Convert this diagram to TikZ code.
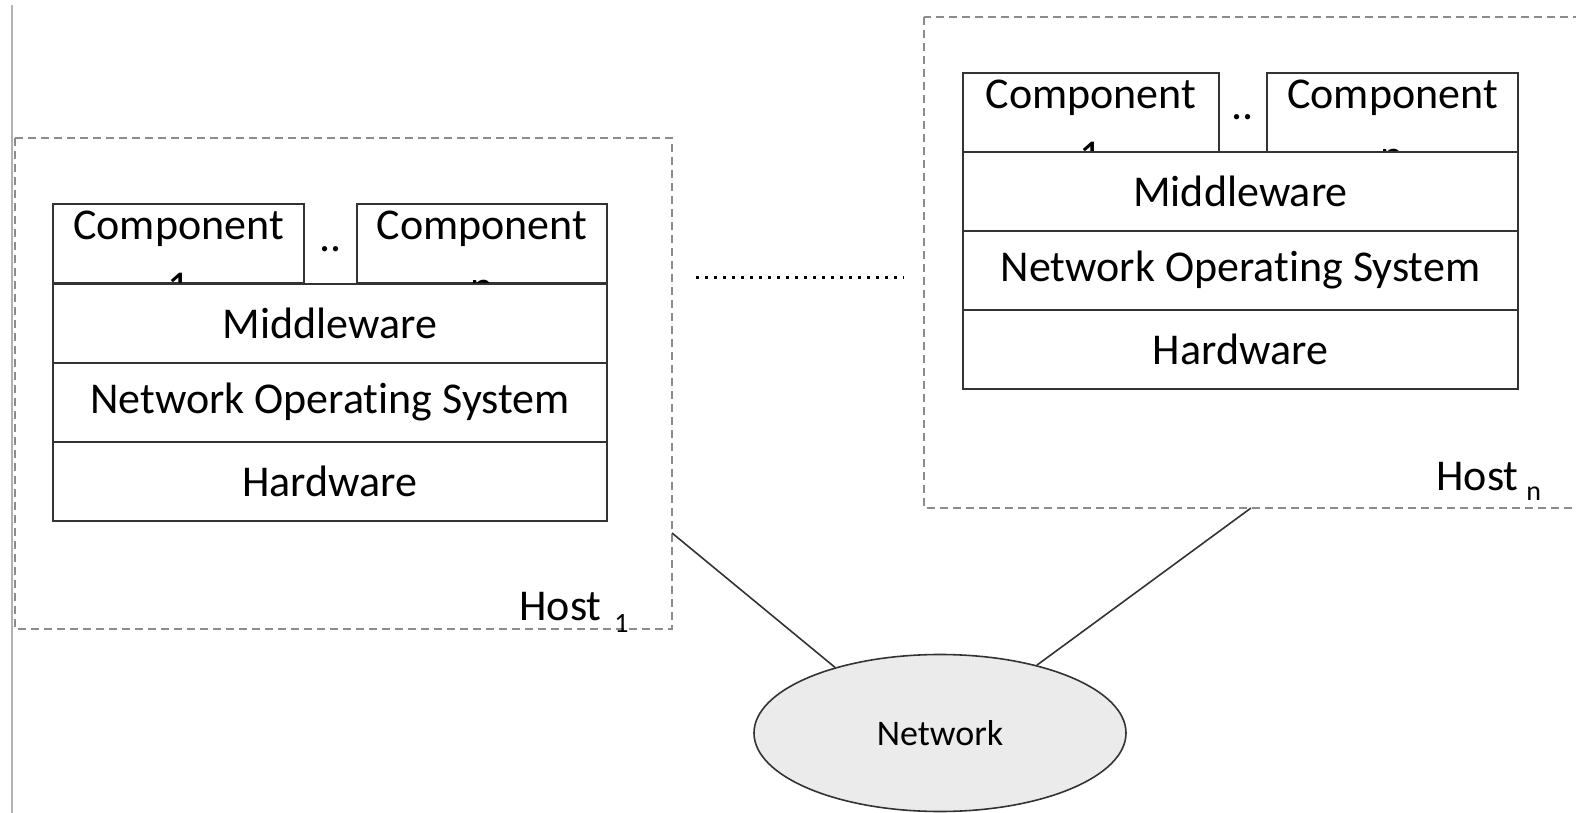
\documentclass[tikz,border=0pt]{standalone}
\usepackage{fontspec}
\setmainfont{Carlito}[Ligatures={NoCommon}]
\usetikzlibrary{shapes.geometric}
\begin{document}
\begin{tikzpicture}[x=0.5pt,y=-0.5pt,
  layer/.style={draw=black!80,line width=0.9pt,fill=white,rectangle,inner sep=0pt,
    minimum height=39.5pt,font=\fontsize{22}{26}\selectfont},
  comp/.style={draw=black!80,line width=0.9pt,rectangle,inner sep=0pt,minimum height=39.5pt},
  ctext/.style={anchor=base,inner sep=0pt,font=\fontsize{22}{26}\selectfont},
  subtext/.style={anchor=base west,inner sep=0pt,font=\fontsize{14}{16}\selectfont},
  hostbox/.style={draw=black!45,line width=0.8pt,dash pattern=on 4pt off 2.5pt},
  conn/.style={draw=black!80,line width=0.8pt}]
\useasboundingbox (0,0) rectangle (1576,813);
\draw[black!30,line width=1pt] (12,5) -- (12,813);
% host boxes
\draw[hostbox] (15,138) rectangle (672,629);
\draw[hostbox] (924,17) rectangle (1600,508);
% left stack
\node[comp,minimum width=125.5pt] (c1L) at (178.5,243.75) {};
\node[comp,minimum width=125pt] (cnL) at (482,243.75) {};
\node[ctext] (c1Lt) at (178.5,240) {Component};
\node[ctext] (cnLt) at (482,240) {Component};
\node[ctext] (c1Ls) at (178.5,301) {1};
\node[ctext] (cnLs) at (482,301) {n};
\node[ctext] (ddL) at (330.5,251) {..};
\node[layer,minimum width=277pt] (mwL) at (330,323.25) {Middleware};
\node[layer,minimum width=277pt] (nosL) at (330,402.5) {Network Operating System};
\node[layer,minimum width=277pt] (hwL) at (330,481.5) {Hardware};
% right stack
\node[comp,minimum width=128pt] (c1R) at (1091,112.5) {};
\node[comp,minimum width=125.5pt] (cnR) at (1392.5,112.5) {};
\node[ctext] (c1Rt) at (1091,109) {Component};
\node[ctext] (cnRt) at (1392.5,109) {Component};
\node[ctext] (c1Rs) at (1091,170) {1};
\node[ctext] (cnRs) at (1392.5,170) {n};
\node[ctext] (ddR) at (1243,120) {..};
\node[layer,minimum width=277.5pt] (mwR) at (1240.5,191.5) {Middleware};
\node[layer,minimum width=277.5pt] (nosR) at (1240.5,270.5) {Network Operating System};
\node[layer,minimum width=277.5pt] (hwR) at (1240.5,349.5) {Hardware};
% host labels
\node[ctext,anchor=base west] (h1) at (519,620) {Host};
\node[subtext] (h1s) at (614,632) {1};
\node[ctext,anchor=base west] (hn) at (1436,490) {Host};
\node[subtext] (hns) at (1526,500) {n};
% dotted
\coordinate (d1) at (696,277);
\coordinate (d2) at (904,277);
\draw[black,line width=1.5pt,dash pattern=on 1.5pt off 3pt] (d1) -- (d2);
% network
\node[ellipse,draw=black!80,line width=0.8pt,fill=black!8,minimum width=186pt,minimum height=78.5pt,inner sep=0pt,
  font=\fontsize{18}{22}\selectfont] (net) at (940,733) {Network};
\coordinate (p1) at (672,533);
\coordinate (pn) at (1251,508);
\draw[conn] (p1) -- (net.148);
\draw[conn] (pn) -- (net.35);
\end{tikzpicture}
\end{document}
